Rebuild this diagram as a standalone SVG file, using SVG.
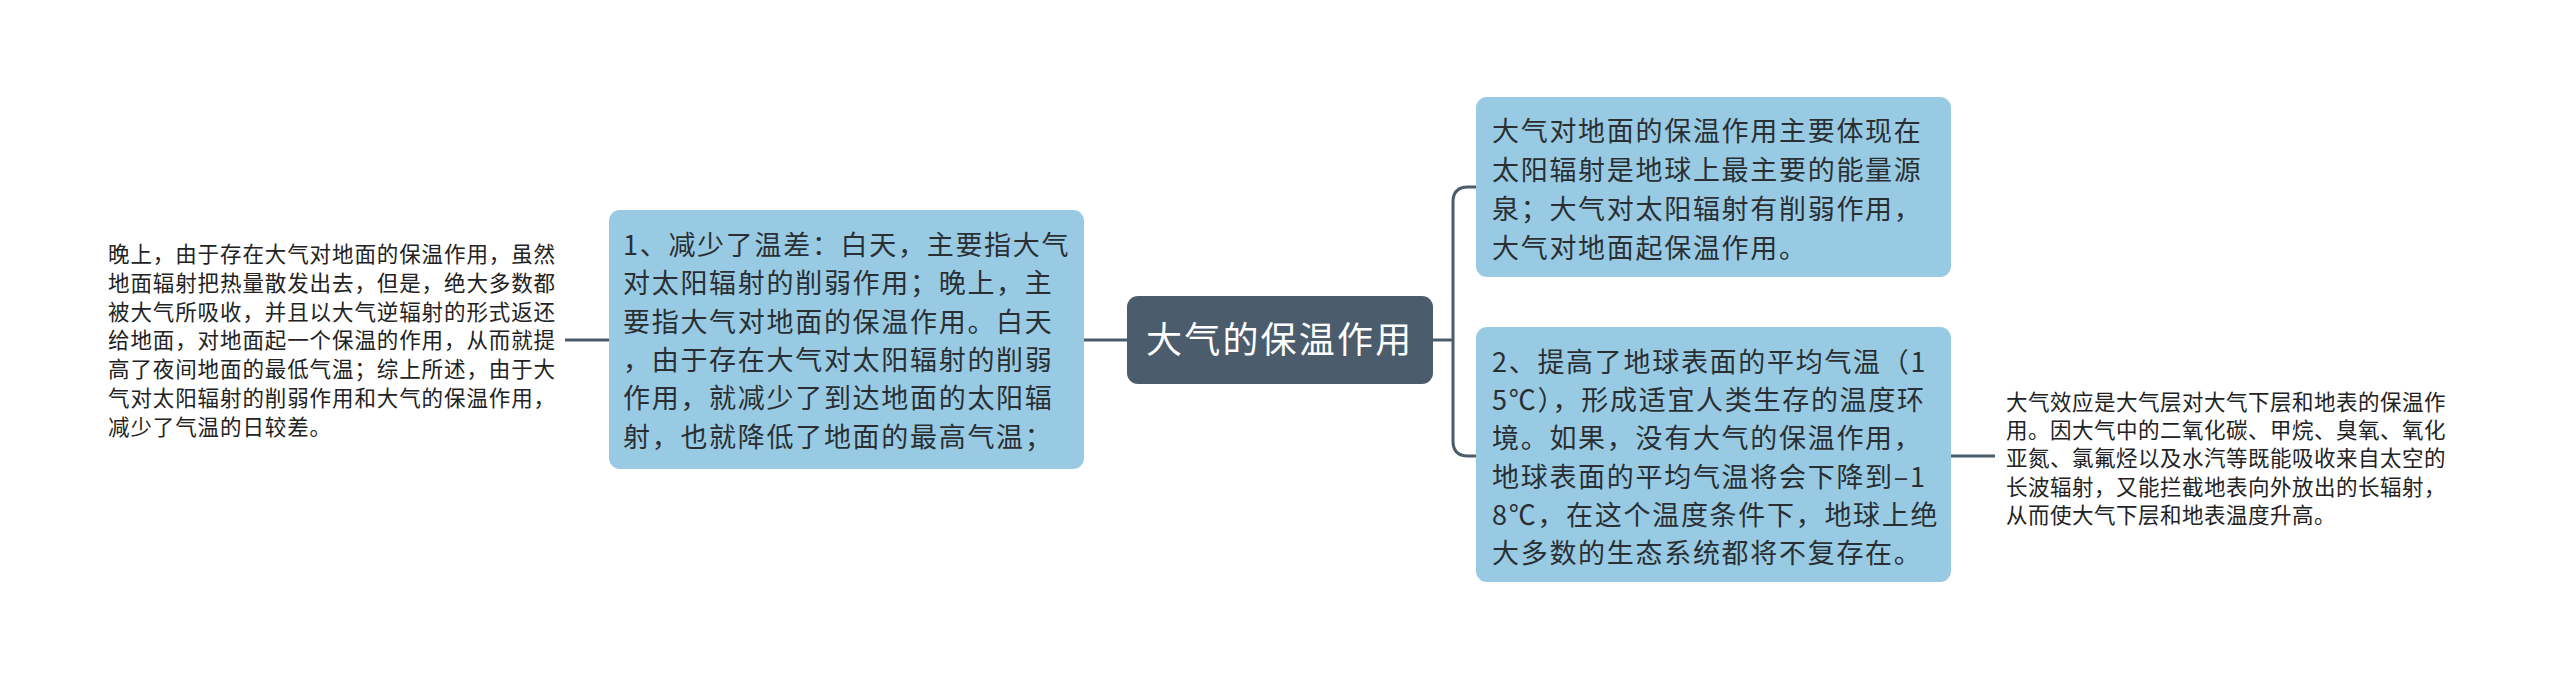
<svg xmlns="http://www.w3.org/2000/svg" width="2560" height="681" viewBox="0 0 2560 681">
<style>
.conn{fill:none;stroke:#4B5C6C;stroke-width:3;stroke-linecap:butt}
.box{fill:#98CBE3}
.root{fill:#4B5C6C}
.bt{font-family:"Noto Sans CJK SC","Noto Sans",sans-serif;font-size:27px;fill:#2A2F33;letter-spacing:1.7px}
.pt{font-family:"Noto Sans CJK SC","Noto Sans",sans-serif;font-size:21.5px;fill:#222222}
.rt{font-family:"Noto Sans CJK SC","Noto Sans",sans-serif;font-size:36px;fill:#FFFFFF;letter-spacing:2.2px}
</style>
<rect width="2560" height="681" fill="#FFFFFF"/>
<g id="connectors">
<path class="conn" d="M565 340 H609"/>
<path class="conn" d="M1084 340 H1127"/>
<path class="conn" d="M1433 340 H1453"/>
<path class="conn" d="M1476 187 H1468 Q1453 187 1453 202 V441 Q1453 456 1468 456 H1476"/>
<path class="conn" d="M1951 456 H1995"/>
</g>
<g id="root">
<rect class="root" x="1127" y="296" width="306" height="88" rx="11"/>
<text class="rt" x="1146" y="353">大气的保温作用</text>
</g>
<g id="left-box">
<rect class="box" x="609" y="210" width="475" height="259" rx="11"/>
<text class="bt">
<tspan x="623" y="255">1、减少了温差：白天，主要指大气</tspan>
<tspan x="623" y="293">对太阳辐射的削弱作用；晚上，主</tspan>
<tspan x="623" y="332">要指大气对地面的保温作用。白天</tspan>
<tspan x="623" y="370">，由于存在大气对太阳辐射的削弱</tspan>
<tspan x="623" y="408">作用，就减少了到达地面的太阳辐</tspan>
<tspan x="623" y="447">射，也就降低了地面的最高气温；</tspan>
</text>
</g>
<g id="left-note">
<text class="pt" style="letter-spacing:0.9px">
<tspan x="108" y="262">晚上，由于存在大气对地面的保温作用，虽然</tspan>
<tspan x="108" y="291">地面辐射把热量散发出去，但是，绝大多数都</tspan>
<tspan x="108" y="320">被大气所吸收，并且以大气逆辐射的形式返还</tspan>
<tspan x="108" y="348">给地面，对地面起一个保温的作用，从而就提</tspan>
<tspan x="108" y="377">高了夜间地面的最低气温；综上所述，由于大</tspan>
<tspan x="108" y="406">气对太阳辐射的削弱作用和大气的保温作用，</tspan>
<tspan x="108" y="435">减少了气温的日较差。</tspan>
</text>
</g>
<g id="right-box-1">
<rect class="box" x="1476" y="97" width="475" height="180" rx="11"/>
<text class="bt">
<tspan x="1492" y="141">大气对地面的保温作用主要体现在</tspan>
<tspan x="1492" y="180">太阳辐射是地球上最主要的能量源</tspan>
<tspan x="1492" y="219">泉；大气对太阳辐射有削弱作用，</tspan>
<tspan x="1492" y="258">大气对地面起保温作用。</tspan>
</text>
</g>
<g id="right-box-2">
<rect class="box" x="1476" y="327" width="475" height="255" rx="11"/>
<text class="bt">
<tspan x="1492" y="372">2、提高了地球表面的平均气温（1</tspan>
<tspan x="1492" y="410">5℃），形成适宜人类生存的温度环</tspan>
<tspan x="1492" y="448">境。如果，没有大气的保温作用，</tspan>
<tspan x="1492" y="487">地球表面的平均气温将会下降到–1</tspan>
<tspan x="1492" y="525">8℃，在这个温度条件下，地球上绝</tspan>
<tspan x="1492" y="563">大多数的生态系统都将不复存在。</tspan>
</text>
</g>
<g id="right-note">
<text class="pt" style="letter-spacing:0.5px">
<tspan x="2006" y="410">大气效应是大气层对大气下层和地表的保温作</tspan>
<tspan x="2006" y="438">用。因大气中的二氧化碳、甲烷、臭氧、氧化</tspan>
<tspan x="2006" y="466">亚氮、氯氟烃以及水汽等既能吸收来自太空的</tspan>
<tspan x="2006" y="495">长波辐射，又能拦截地表向外放出的长辐射，</tspan>
<tspan x="2006" y="523">从而使大气下层和地表温度升高。</tspan>
</text>
</g>
</svg>
